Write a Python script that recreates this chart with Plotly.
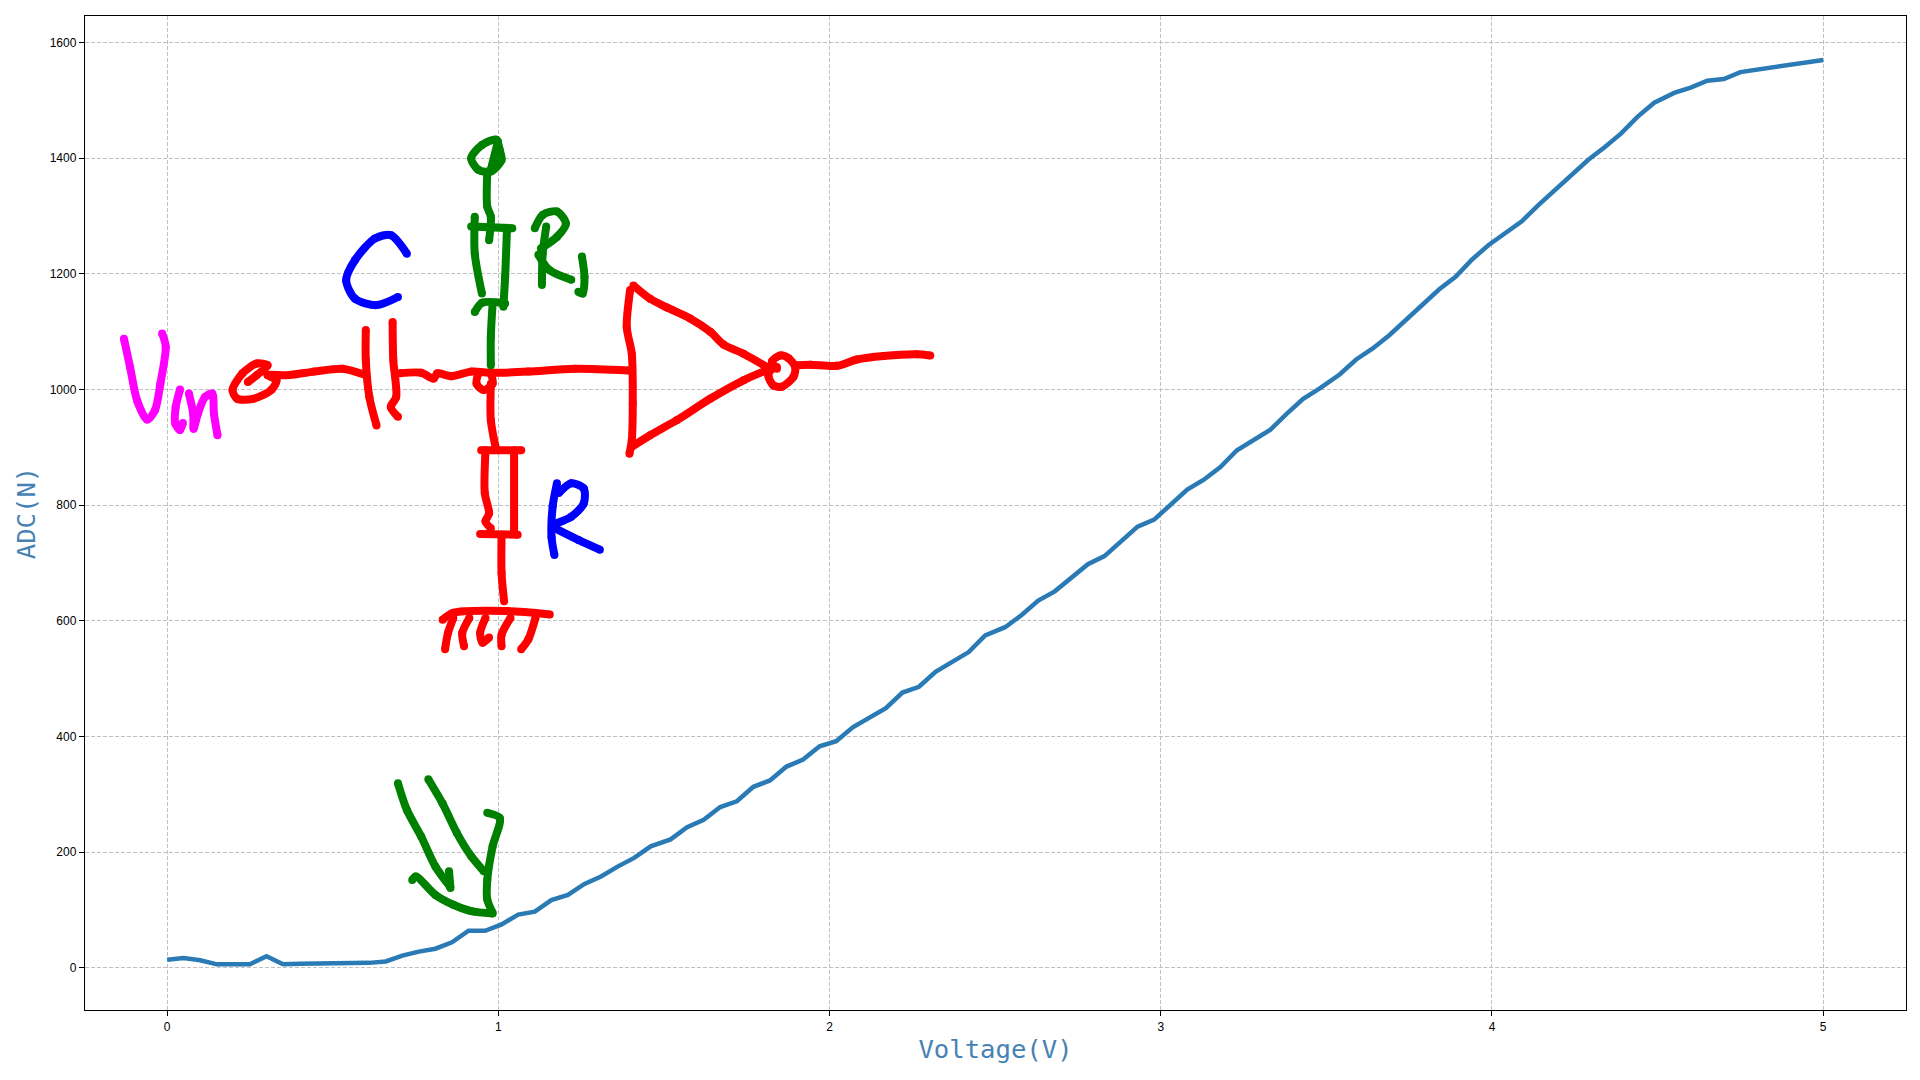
'''
ADC reading against input voltage, with the hand drawn circuit sketch on top
'''
import plotly.graph_objects as go

### CURVE ###
voltage = [
    0.00, 0.05, 0.10, 0.15, 0.20, 0.25, 0.30, 0.35, 0.40, 0.45,
    0.51, 0.56, 0.61, 0.66, 0.71, 0.76, 0.81, 0.86, 0.91, 0.96,
    1.01, 1.06, 1.11, 1.16, 1.21, 1.26, 1.31, 1.36, 1.41, 1.46,
    1.52, 1.57, 1.62, 1.67, 1.72, 1.77, 1.82, 1.87, 1.92, 1.97,
    2.02, 2.07, 2.12, 2.17, 2.22, 2.27, 2.32, 2.37, 2.42, 2.47,
    2.53, 2.58, 2.63, 2.68, 2.73, 2.78, 2.83, 2.88, 2.93, 2.98,
    3.03, 3.08, 3.13, 3.18, 3.23, 3.28, 3.33, 3.38, 3.43, 3.48,
    3.54, 3.59, 3.64, 3.69, 3.74, 3.79, 3.84, 3.89, 3.94, 3.99,
    4.04, 4.09, 4.14, 4.19, 4.24, 4.29, 4.34, 4.39, 4.44, 4.49,
    4.55, 4.60, 4.65, 4.70, 4.75, 4.80, 4.85, 4.90, 4.95, 5.00,
]
adc = [
    14, 17, 13, 6, 6, 6, 20, 6, 7, 7,
    7, 7.5, 8.5, 11, 21, 28, 33, 44, 64, 64,
    75, 92, 97, 117, 126, 145, 158, 175, 190, 210,
    222, 243, 256, 278, 288, 313, 324, 348, 360, 383,
    392, 416, 433, 449, 476, 486, 512, 530, 546, 575,
    589, 610, 635, 651, 674, 698, 712, 737, 763, 775,
    800, 827, 844, 866, 895, 912, 930, 958, 984, 1002,
    1026, 1052, 1071, 1094, 1120, 1148, 1173, 1195, 1225, 1250,
    1271, 1291, 1319, 1345, 1371, 1397, 1419, 1443, 1472, 1496,
    1513, 1522, 1534, 1537, 1549, 1553, 1557, 1562, 1566, 1570,
]

x_ticks = [0, 1, 2, 3, 4, 5]
y_ticks = [0, 200, 400, 600, 800, 1000, 1200, 1400, 1600]

### SKETCH STROKES, None lifts the pen ###
magenta_x = [
    -0.1305, -0.112, -0.0906, -0.0604, -0.0367, -0.0205, -0.0043, -0.0151, None,
    0.0388, 0.0259, 0.0248, 0.0388, 0.0475, None,
    0.0658, 0.0787, 0.0798, 0.0928, 0.1143, 0.1359, 0.1413, 0.1521,
]
magenta_y = [
    1088, 1039, 981, 948, 964, 1010, 1074, 1097, None,
    1000, 970, 941, 930, 942, None,
    993, 958, 932, 958, 987, 993, 958, 921,
]
red_x = [
    # input loop and wire
    0.2438, 0.2708, 0.3031, 0.2708, 0.2276, 0.1974, 0.2114, 0.26, 0.3139, 0.3301,
    0.3031, 0.3679, 0.4434, 0.5297, 0.5998, None,
    # capacitor
    0.5998, 0.5998, 0.6106, 0.6322, None,
    0.6807, 0.6828, 0.6915, 0.6753, 0.6969, None,
    # wire to the inverter
    0.7023, 0.767, 0.8047, 0.8155, 0.8587, 0.918, 0.9827, 1.0906, 1.2309, 1.3927, None,
    0.9396, 0.9342, 0.9558, 0.9827, 0.9773, None,
    # resistor and ground
    0.9773, 0.9773, 0.9914, None,
    0.9482, 1.069, None,
    0.9612, 0.959, 0.972, 0.9612, 0.9773, None,
    0.945, 1.0583, None,
    1.0475, 1.0475, None,
    1.0097, 1.0097, 1.0173, None,
    0.8317, 0.864, 1.0259, 1.1553, None,
    0.864, 0.8479, 0.8392, None,
    0.9126, 0.891, 0.8964, None,
    0.9612, 0.945, 0.9525, 0.972, None,
    1.0367, 1.0097, 1.0097, None,
    1.1122, 1.0906, 1.069, None,
    # inverter
    1.4079, 1.4582, 1.5086, 1.579, 1.6395, 1.6798, 1.7402, 1.8107, None,
    1.3978, 1.3877, 1.4028, 1.4058, 1.4028, 1.3958, None,
    1.4028, 1.4582, 1.5388, 1.6395, 1.7402, 1.8207, None,
    1.8409, 1.8207, 1.8157, 1.8308, 1.856, 1.8912, 1.8963, 1.8761, 1.851, 1.8258, 1.8409, None,
    1.8963, 1.9416, 2.0222, 2.0826, 2.1631, 2.2638, 2.3041,
]
red_y = [
    1013, 1025, 1042, 1045, 1028, 999, 984, 984, 999, 1016,
    1025, 1025, 1031, 1036, 1025, None,
    1103, 1051, 987, 938, None,
    1117, 1051, 987, 970, 953, None,
    1028, 1029, 1019, 1028, 1023, 1031, 1029, 1031, 1036, 1033, None,
    1028, 1010, 999, 1010, 1028, None,
    1010, 947, 901, None,
    895, 895, None,
    895, 821, 786, 772, 760, None,
    750, 749, None,
    895, 752, None,
    749, 683, 634, None,
    602, 614, 617, 611, None,
    605, 579, 551, None,
    605, 579, 556, None,
    605, 579, 562, 571, None,
    605, 576, 556, None,
    605, 568, 551, None,
    1180, 1157, 1142, 1123, 1100, 1078, 1062, 1039, None,
    1172, 1108, 1062, 976, 912, 889, None,
    901, 921, 947, 984, 1016, 1036, None,
    1039, 1033, 1022, 1007, 1005, 1022, 1039, 1054, 1059, 1048, 1036, None,
    1042, 1043, 1041, 1052, 1058, 1061, 1059,
]
blue_x = [
    # C
    0.7238, 0.6753, 0.6268, 0.5674, 0.5405, 0.5674, 0.6322, 0.6969, None,
    # R
    1.1769, 1.164, 1.1607, 1.1693, None,
    1.1823, 1.22, 1.2578, 1.2578, 1.22, 1.1769, None,
    1.1715, 1.2416, 1.3064,
]
blue_y = [
    1235, 1267, 1261, 1224, 1189, 1157, 1146, 1160, None,
    838, 798, 744, 714, None,
    821, 838, 829, 803, 780, 769, None,
    760, 740, 723,
]
green_x = [
    # supply terminal
    0.9935, 0.9504, 0.918, 0.9396, 0.9773, 1.0097, 1.0043, 0.9935, None,
    0.9989, 0.9773, None,
    0.9666, 0.9666, 0.9773, 0.972, None,
    # resistor R1
    0.918, 1.0421, None,
    0.9288, 0.9288, 0.9504, None,
    1.0259, 1.0205, 1.0151, None,
    0.9288, 0.9504, 1.0205, None,
    0.9827, 0.9773, 0.9773, None,
    1.1445, 1.1338, 1.1316, None,
    1.11, 1.1338, 1.1769, 1.2039, 1.1769, 1.1284, None,
    1.1208, 1.1532, 1.2201, None,
    1.2524, 1.26, 1.2546, 1.2416, None,
    # arrow
    0.6969, 0.7238, 0.767, 0.8101, 0.8533, None,
    0.8511, 0.8554, None,
    0.7886, 0.8317, 0.8749, 0.918, 0.9558, None,
    0.9666, 1.0043, 0.9827, 0.9666, 0.9666, 0.9827, None,
    0.74, 0.7508, 0.8101, 0.8641, 0.918, 0.9827,
]
green_y = [
    1432, 1423, 1400, 1380, 1377, 1397, 1414, 1432, None,
    1429, 1380, None,
    1377, 1316, 1299, 1258, None,
    1282, 1279, None,
    1299, 1235, 1166, None,
    1276, 1195, 1143, None,
    1134, 1150, 1149, None,
    1149, 1091, 1042, None,
    1282, 1235, 1181, None,
    1279, 1302, 1308, 1287, 1264, 1244, None,
    1233, 1207, 1190, None,
    1230, 1195, 1166, 1169, None,
    319, 273, 227, 175, 141, None,
    167, 138, None,
    326, 284, 233, 193, 167, None,
    268, 259, 210, 152, 118, 95, None,
    152, 158, 126, 109, 98, 94,
]


def add_ink(fig, x, y, color):
    '''
    adds one colour of sketch strokes, the markers round off the pen ends
    '''
    fig.add_trace(go.Scatter(
        x=x, y=y, mode='lines+markers', connectgaps=False, showlegend=False,
        line=dict(color=color, width=8, shape='spline', smoothing=0.8),
        marker=dict(color=color, size=8),
    ))


fig = go.Figure()
fig.add_trace(go.Scatter(
    x=voltage, y=adc, mode='lines', showlegend=False,
    line=dict(color='#2a7ab5', width=4.5),
))
add_ink(fig, magenta_x, magenta_y, '#ff00ff')
add_ink(fig, red_x, red_y, '#ff0000')
add_ink(fig, blue_x, blue_y, '#0000ff')
add_ink(fig, green_x, green_y, '#008000')

AXIS_STYLE = dict(
    showline=True, linecolor='black', linewidth=1.4, mirror=True,
    ticks='outside', ticklen=5, tickwidth=1, tickcolor='black',
    showgrid=True, gridcolor='#c0c0c0', gridwidth=1, griddash='4px,2px',
    zeroline=False,
    tickfont=dict(family='Liberation Sans', size=12, color='black'),
)
TITLE_FONT = dict(family='DejaVu Sans Mono', size=25.6, color='#4682b4')

fig.update_xaxes(
    range=[-0.248, 5.25], tickvals=x_ticks,
    title=dict(text='Voltage(V)', font=TITLE_FONT, standoff=7), **AXIS_STYLE
)
fig.update_yaxes(
    range=[-73, 1646], tickvals=y_ticks,
    title=dict(text='ADC(N)', font=TITLE_FONT, standoff=6), **AXIS_STYLE
)
# the page keeps an 8px body margin, so the figure is a little smaller than the window
fig.update_layout(
    width=1904, height=1060, paper_bgcolor='white', plot_bgcolor='white',
    margin=dict(l=77.3, r=6.3, t=8, b=57.5, autoexpand=False),
)
fig.write_html("out.html")
